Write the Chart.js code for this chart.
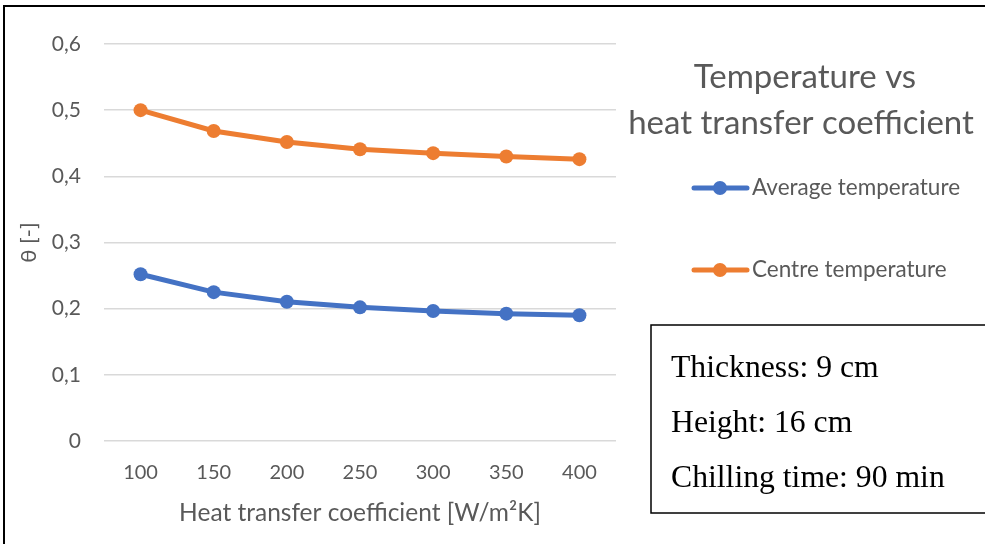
<!DOCTYPE html>
<html><head><meta charset="utf-8">
<script src="https://cdn.jsdelivr.net/npm/chart.js@4"></script>
<style>html,body{margin:0;padding:0;background:#fff;overflow:hidden}#wrap{width:985px;height:544px;position:relative}</style>
</head><body><div id="wrap"><canvas id="c" width="985" height="544"></canvas></div>
<script>
const categories = ['100','150','200','250','300','350','400'];
const averageTemp = [0.252, 0.225, 0.2105, 0.202, 0.1965, 0.1925, 0.190];
const centreTemp = [0.500, 0.4685, 0.452, 0.441, 0.435, 0.430, 0.426];
const yTicks = [0, 0.1, 0.2, 0.3, 0.4, 0.5, 0.6];
const titleLines = ['Temperature vs', 'heat transfer coefficient'];
const infoLines = ['Thickness: 9 cm', 'Height: 16 cm', 'Chilling time: 90 min'];

const SANS = 'Lato, "Noto Sans", sans-serif';
const GREY = '#595959';

const decor = {
  id: 'decor',
  afterDraw(chart) {
    const ctx = chart.ctx;
    ctx.save();
    // outer frame
    ctx.strokeStyle = '#000'; ctx.lineWidth = 2;
    ctx.strokeRect(4, 6, 1000, 560);
    // title
    ctx.fillStyle = GREY; ctx.font = '33px ' + SANS;
    ctx.textAlign = 'center'; ctx.textBaseline = 'alphabetic';
    ctx.fillText(titleLines[0], 805, 88);
    ctx.fillText(titleLines[1], 801, 134);
    // legend
    const ys = [188, 270];
    chart.data.datasets.forEach((ds, i) => {
      const y = ys[i];
      ctx.strokeStyle = ds.borderColor; ctx.lineWidth = 5; ctx.lineCap = 'round';
      ctx.beginPath(); ctx.moveTo(694, y); ctx.lineTo(747, y); ctx.stroke();
      ctx.fillStyle = ds.backgroundColor;
      ctx.beginPath(); ctx.arc(720, y, 7, 0, Math.PI*2); ctx.fill();
      ctx.fillStyle = GREY; ctx.font = '22.5px ' + SANS;
      ctx.textAlign = 'left'; ctx.textBaseline = 'middle';
      ctx.fillText(ds.label, 752, y);
    });
    // info box
    ctx.fillStyle = '#fff';
    ctx.fillRect(651, 325, 340, 188);
    ctx.strokeStyle = '#000'; ctx.lineWidth = 1.5;
    ctx.strokeRect(651, 325, 340, 188);
    ctx.fillStyle = '#000'; ctx.font = '31.7px "Liberation Serif", "Times New Roman", serif';
    ctx.textAlign = 'left'; ctx.textBaseline = 'alphabetic';
    ctx.fillText(infoLines[0], 671, 377);
    ctx.fillText(infoLines[1], 671, 432);
    ctx.fillText(infoLines[2], 671, 487);
    ctx.restore();
  }
};

new Chart(document.getElementById('c'), {
  type: 'line',
  data: {
    labels: categories,
    datasets: [
      { label: 'Average temperature', data: averageTemp, borderColor: '#4472C4', backgroundColor: '#4472C4', borderWidth: 5, pointRadius: 7, pointHoverRadius: 7, pointBorderWidth: 0, tension: 0 },
      { label: 'Centre temperature', data: centreTemp, borderColor: '#ED7D31', backgroundColor: '#ED7D31', borderWidth: 5, pointRadius: 7, pointHoverRadius: 7, pointBorderWidth: 0, tension: 0 }
    ]
  },
  options: {
    responsive: false, animation: false, devicePixelRatio: 1,
    layout: { padding: { top: 44, right: 369, left: 0, bottom: 0 } },
    plugins: { legend: { display: false }, title: { display: false }, tooltip: { enabled: false } },
    scales: {
      x: {
        offset: true,
        grid: { display: false, drawTicks: false },
        border: { display: false },
        ticks: { color: GREY, font: { family: SANS, size: 20 }, padding: 20 },
        title: { display: true, text: 'Heat transfer coefficient [W/m²K]', color: GREY, font: { family: SANS, size: 24.5 }, padding: { top: 0, bottom: 16 } },
        afterFit(s) { s.height = 103; }
      },
      y: {
        min: 0, max: 0.6,
        afterBuildTicks(s) { s.ticks = yTicks.map(v => ({ value: v })); },
        grid: { color: '#d9d9d9', lineWidth: 1.5, drawTicks: false },
        border: { display: false },
        ticks: { color: GREY, font: { family: SANS, size: 21 }, padding: 23,
          callback: v => v === 0 ? '0' : v.toFixed(1).replace('.', ',') },
        title: { display: true, text: 'θ [-]', color: GREY, font: { family: SANS, size: 22 }, padding: { top: 16, bottom: 0 } },
        afterFit(s) { s.width = 104; }
      }
    }
  },
  plugins: [decor]
});
</script></body></html>
